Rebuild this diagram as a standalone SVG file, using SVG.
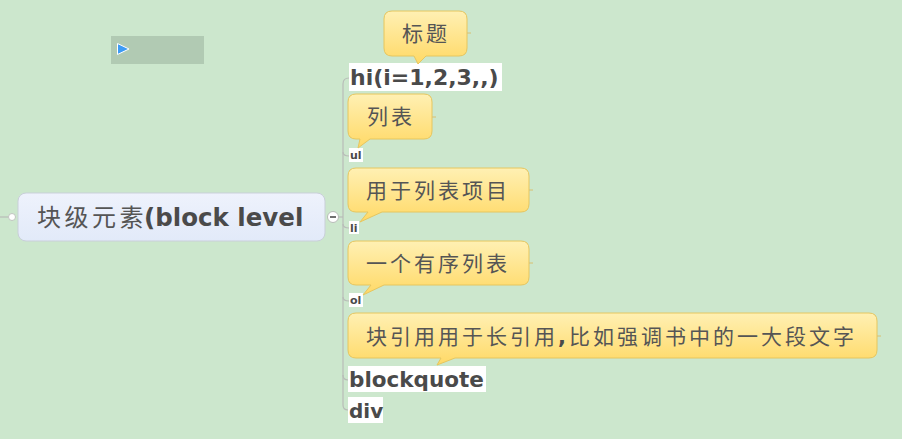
<svg xmlns="http://www.w3.org/2000/svg" width="902" height="439" viewBox="0 0 902 439">
<defs>
<linearGradient id="gy" x1="0" y1="0" x2="0" y2="1">
<stop offset="0" stop-color="#fff0b3"/>
<stop offset="1" stop-color="#ffd966"/>
</linearGradient>
<linearGradient id="gb" x1="0" y1="0" x2="0" y2="1">
<stop offset="0" stop-color="#eef2fc"/>
<stop offset="1" stop-color="#e2eaf9"/>
</linearGradient>
</defs>
<style>
.cj{font-family:"Noto Sans CJK SC","Noto Sans",sans-serif;fill:#555555;}
.ct{font-size:21px;letter-spacing:3px;}
.lb{font-family:"DejaVu Sans",sans-serif;font-weight:bold;fill:#4a4a4a;}
.lbg{fill:#ffffff;}
.call{fill:url(#gy);stroke:#e6c65f;stroke-width:1;}
.ln{fill:none;stroke:#b8bcb8;stroke-width:1.2;}
.tick{stroke:#d8c070;stroke-width:1;}
</style>
<rect width="902" height="439" fill="#cce7cd"/>

<g id="marker-widget">
<rect x="111" y="36" width="93" height="28" fill="#b1cab3"/>
<polygon points="117.5,43.5 129,49 117.5,54.5" fill="#3d9bf5" stroke="#ffffff" stroke-width="1"/>
</g>

<g id="connectors">
<line x1="0" y1="217" x2="10" y2="217" class="ln"/>
<line x1="338" y1="217" x2="343" y2="217" class="ln"/>
<path class="ln" d="M343,405 V84 Q343,78 349,78"/>
<path class="ln" d="M343,152 Q343,156 349,156"/>
<path class="ln" d="M343,224 Q343,228 349,228"/>
<path class="ln" d="M343,297 Q343,301 349,301"/>
<path class="ln" d="M343,375 Q343,380 348,380"/>
<path class="ln" d="M343,405 Q343,410 348,410"/>
</g>

<g id="root">
<rect x="18" y="193" width="307" height="48" rx="8" fill="url(#gb)" stroke="#c9cfd9" stroke-width="1"/>
<circle cx="12" cy="217" r="3.5" fill="#ffffff" stroke="#c0c4c0" stroke-width="1"/>
<text x="37" y="226"><tspan class="cj" font-size="24" letter-spacing="3.5">块级元素</tspan><tspan class="lb" font-size="24.5" dx="-3">(block level</tspan></text>
<circle cx="333" cy="217" r="5.5" fill="#ffffff" stroke="#b8bcb8" stroke-width="1"/>
<line x1="330" y1="217" x2="336" y2="217" stroke="#333333" stroke-width="1.4"/>
</g>

<g id="n-hi">
<rect class="lbg" x="349" y="63" width="153" height="28"/>
<text class="lb" x="350" y="85" font-size="22">hi(i=1,2,3,,)</text>
</g>
<g id="c-title">
<path class="call" d="M392,11 H459 Q467,11 467,19 V48 Q467,56 459,56 H426 L418,64 L414,56 H392 Q384,56 384,48 V19 Q384,11 392,11 Z"/>
<line class="tick" x1="467" y1="33" x2="471" y2="33"/>
<text class="cj ct" x="402" y="41">标题</text>
</g>

<g id="n-ul">
<rect class="lbg" x="349" y="148" width="14" height="14"/>
<text class="lb" x="350" y="159" font-size="11">ul</text>
</g>
<g id="c-list">
<path class="call" d="M356,94 H424 Q432,94 432,102 V131 Q432,139 424,139 H370 L358,148 L360,139 H356 Q348,139 348,131 V102 Q348,94 356,94 Z"/>
<line class="tick" x1="432" y1="117" x2="436" y2="117"/>
<text class="cj ct" x="367" y="124">列表</text>
</g>

<g id="n-li">
<rect class="lbg" x="349" y="221" width="10" height="13"/>
<text class="lb" x="350" y="232" font-size="11">li</text>
</g>
<g id="c-li">
<path class="call" d="M356,168 H521 Q529,168 529,176 V204 Q529,212 521,212 H382 L360,222 L368,212 H356 Q348,212 348,204 V176 Q348,168 356,168 Z"/>
<line class="tick" x1="529" y1="190" x2="533" y2="190"/>
<text class="cj ct" x="366" y="198">用于列表项目</text>
</g>

<g id="n-ol">
<rect class="lbg" x="349" y="293" width="14" height="14"/>
<text class="lb" x="350" y="304" font-size="11">ol</text>
</g>
<g id="c-ol">
<path class="call" d="M356,241 H521 Q529,241 529,249 V277 Q529,285 521,285 H384 L363,295 L371,285 H356 Q348,285 348,277 V249 Q348,241 356,241 Z"/>
<line class="tick" x1="529" y1="263" x2="533" y2="263"/>
<text class="cj ct" x="366" y="271">一个有序列表</text>
</g>

<g id="n-blockquote">
<rect class="lbg" x="348" y="366" width="138" height="26"/>
<text class="lb" x="349" y="387" font-size="21.5">blockquote</text>
</g>
<g id="c-blockquote">
<path class="call" d="M356,313 H869 Q877,313 877,321 V350 Q877,358 869,358 H455 L437,365 L441,358 H356 Q348,358 348,350 V321 Q348,313 356,313 Z"/>
<line class="tick" x1="877" y1="336" x2="881" y2="336"/>
<text class="cj ct" x="366" y="344">块引用用于长引用<tspan class="lb" font-size="21">,</tspan>比如强调书中的一大段文字</text>
</g>

<g id="n-div">
<rect class="lbg" x="348" y="397" width="35" height="26"/>
<text class="lb" x="349" y="418" font-size="20">div</text>
</g>
</svg>
